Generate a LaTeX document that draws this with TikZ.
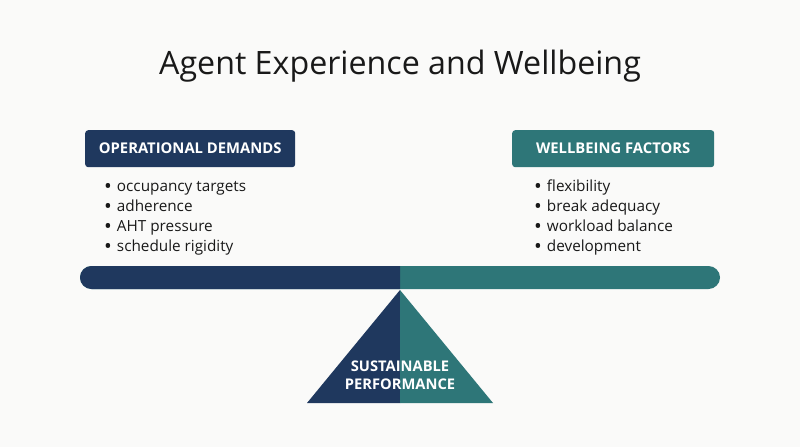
\documentclass[tikz,border=0pt]{standalone}
\usepackage{fontspec}
\setmainfont{Open Sans}
\definecolor{navy}{RGB}{31,56,94}
\definecolor{teal2}{RGB}{46,118,120}
\definecolor{bg}{RGB}{250,250,249}
\definecolor{ink}{RGB}{25,25,25}
\newcommand{\bdot}{\raisebox{-1.3pt}{\scalebox{1.35}{\textbullet}}}
\begin{document}
\begin{tikzpicture}[x=1pt,y=-1pt,
  header/.style={fill=#1, rounded corners=3pt, text=white, font=\bfseries\fontsize{14.8}{16}\selectfont, minimum height=37pt, inner xsep=0pt, anchor=north west},
  blist/.style={anchor=north west, text=ink, font=\fontsize{15.3}{20}\selectfont, inner sep=0pt},
  ptext/.style={text=white, font=\bfseries\fontsize{14.7}{18}\selectfont, align=center}]
\fill[bg] (0,0) rectangle (800,447);
\useasboundingbox (0,0) rectangle (800,447);
\node[text=ink, font=\fontsize{32.2}{38}\selectfont] (title) at (400,66) {Agent Experience and Wellbeing};
\node[header=navy, minimum width=210pt] (lefthead) at (85,130) {OPERATIONAL DEMANDS};
\node[header=teal2, minimum width=202pt] (righthead) at (512,130) {WELLBEING FACTORS};
\node[blist] (leftlist) at (104,177.5) {\begin{tabular}{@{}l@{\hspace{5pt}}l@{}}
\bdot & occupancy targets\\
\bdot & adherence\\
\bdot & AHT pressure\\
\bdot & schedule rigidity
\end{tabular}};
\node[blist] (rightlist) at (534,177.5) {\begin{tabular}{@{}l@{\hspace{5pt}}l@{}}
\bdot & flexibility\\
\bdot & break adequacy\\
\bdot & workload balance\\
\bdot & development
\end{tabular}};
% beam
\fill[teal2, rounded corners=11.5pt] (80,266) rectangle (720,289);
\begin{scope}
\clip (0,0) rectangle (400,447);
\fill[navy, rounded corners=11.5pt] (80,266) rectangle (720,289);
\end{scope}
\coordinate (pivot) at (400,290);
\coordinate (baseL) at (307,403);
\coordinate (baseR) at (493,403);
\coordinate (baseM) at (400,403);
\fill[navy] (pivot) -- (baseL) -- (baseM) -- cycle;
\fill[teal2] (pivot) -- (baseM) -- (baseR) -- cycle;
\node[ptext] (fulcrum) at (400,375.5) {SUSTAINABLE\\PERFORMANCE};
\end{tikzpicture}
\end{document}
